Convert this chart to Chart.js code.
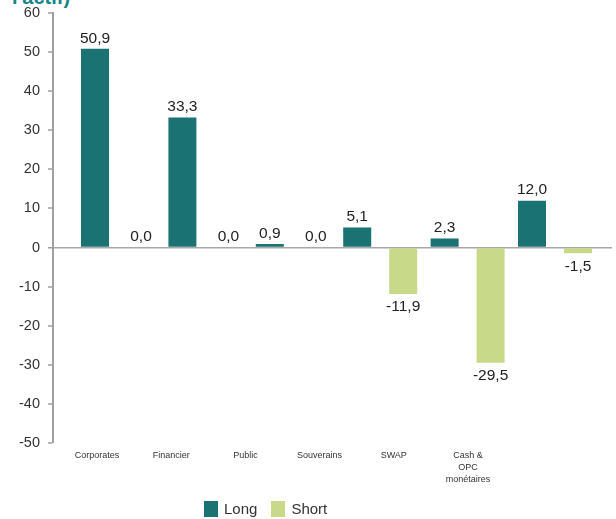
<!DOCTYPE html>
<html>
<head>
<meta charset="utf-8">
<script src="https://cdn.jsdelivr.net/npm/chart.js@4"></script>
<style>
  html, body { margin: 0; padding: 0; background: #fff; }
  #wrap { position: relative; width: 616px; height: 519px; overflow: hidden; }
  #title { position: absolute; left: 12px; top: -13px; font: bold 20px "Liberation Sans", Arial, sans-serif; color: #158585; line-height: 20px; white-space: nowrap; }
  #legend { position: absolute; left: 204px; top: 500px; display: flex; align-items: center; font: 15px "Liberation Sans", Arial, sans-serif; color: #333; }
  .item { display: flex; align-items: center; margin-right: 14px; }
  .box { width: 14px; height: 16px; margin-right: 6px; }
  canvas { position: absolute; left: 0; top: 0; }
</style>
</head>
<body>
<div id="wrap">
  <div id="title">l'actif)</div>
  <canvas id="c" width="616" height="519"></canvas>
  <div id="legend"></div>
</div>
<script>
const categories = ["Corporates", "Financier", "Public", "Souverains", "SWAP", ["Cash &", "OPC", "monétaires"]];
const longValues = [50.9, 33.3, 0.9, 5.1, 2.3, 12.0];
const shortValues = [0.0, 0.0, 0.0, -11.9, -29.5, -1.5];
const seriesNames = ["Long", "Short"];
const seriesColors = ["#1a7272", "#c8d98a"];
const yTicks = [60, 50, 40, 30, 20, 10, 0, -10, -20, -30, -40, -50];

const fmt = v => v.toFixed(1).replace('.', ',');
const FONT = '"Liberation Sans", Arial, sans-serif';

const valueLabels = {
  id: 'valueLabels',
  afterDatasetsDraw(chart) {
    const ctx = chart.ctx;
    ctx.save();
    ctx.font = '15.5px ' + FONT;
    ctx.fillStyle = '#222';
    ctx.textAlign = 'center';
    ctx.textBaseline = 'middle';
    chart.data.datasets.forEach((ds, di) => {
      const meta = chart.getDatasetMeta(di);
      meta.data.forEach((bar, i) => {
        const v = ds.data[i].y;
        const y = v >= 0 ? bar.y - 10.5 : bar.y + 13;
        ctx.fillText(fmt(v), bar.x, y);
      });
    });
    ctx.restore();
  }
};

const idx = categories.map((c, i) => i);
const setIntTicks = s => { s.ticks = idx.map(v => ({ value: v })); };

new Chart(document.getElementById('c'), {
  type: 'bar',
  data: {
    datasets: [
      { label: seriesNames[0], data: idx.map(i => ({ x: i, y: longValues[i] })), backgroundColor: seriesColors[0], xAxisID: 'x', categoryPercentage: 1.0526, barPercentage: 0.6087 },
      { label: seriesNames[1], data: idx.map(i => ({ x: i, y: shortValues[i] })), backgroundColor: seriesColors[1], xAxisID: 'x', categoryPercentage: 1.0526, barPercentage: 0.6087 }
    ]
  },
  options: {
    responsive: false,
    animation: false,
    layout: { padding: { top: 13.3, right: 4, left: 0, bottom: 0 } },
    plugins: { legend: { display: false }, tooltip: { enabled: false } },
    scales: {
      x: {
        type: 'linear',
        display: false,
        offset: false,
        bounds: 'data',
        min: -0.7437,
        max: 5.652,
        grid: { offset: false },
        afterBuildTicks: setIntTicks
      },
      x2: {
        type: 'linear',
        position: 'bottom',
        offset: false,
        bounds: 'data',
        min: -0.593,
        max: 6.941,
        afterBuildTicks: setIntTicks,
        grid: { display: false, drawTicks: false, offset: false },
        border: { display: false },
        ticks: {
          autoSkip: false, maxRotation: 0, padding: 7,
          font: { size: 9, family: FONT, lineHeight: 1.33 },
          color: '#333',
          callback: v => categories[v]
        },
        afterFit: s => { s.height = 76.3; s.paddingLeft = 0; s.paddingRight = 0; }
      },
      y: {
        min: -50,
        max: 60,
        afterBuildTicks: s => { s.ticks = yTicks.slice().reverse().map(v => ({ value: v })); },
        border: { display: true, color: '#a0a0a0', width: 2 },
        grid: {
          drawOnChartArea: true,
          color: c => (c.tick && c.tick.value === 0) ? '#a8a8a8' : 'rgba(0,0,0,0)',
          lineWidth: c => (c.tick && c.tick.value === 0) ? 1.5 : 0,
          tickColor: '#a0a0a0',
          tickLength: 5,
          tickWidth: 1.5
        },
        ticks: { padding: 8, font: { size: 14.5, family: FONT }, color: '#333' },
        afterFit: s => { s.width = 53; s.paddingTop = 0; s.paddingBottom = 0; }
      }
    }
  },
  plugins: [valueLabels]
});

const leg = document.getElementById('legend');
seriesNames.forEach((n, i) => {
  const it = document.createElement('div');
  it.className = 'item';
  const b = document.createElement('div');
  b.className = 'box';
  b.style.background = seriesColors[i];
  const t = document.createElement('span');
  t.textContent = n;
  it.appendChild(b); it.appendChild(t);
  leg.appendChild(it);
});
</script>
</body>
</html>
